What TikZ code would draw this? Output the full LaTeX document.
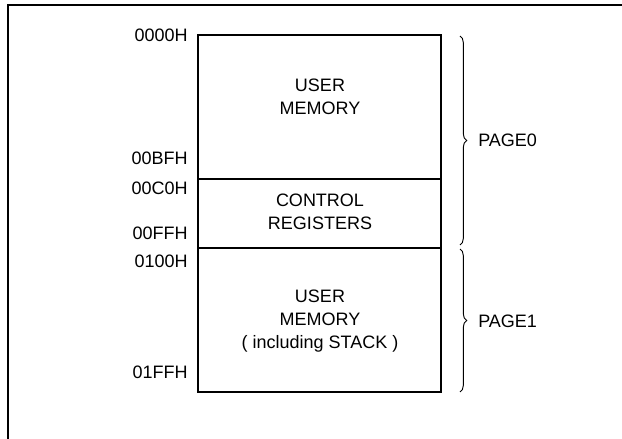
\documentclass[tikz,border=0pt]{standalone}
\usepackage{fontspec}
\setmainfont{Liberation Sans}
\usetikzlibrary{decorations.pathreplacing}
\begin{document}
\begin{tikzpicture}[x=0.75pt,y=-0.75pt,
  lbl/.style={font=\fontsize{13.5}{17}\selectfont,inner sep=0pt,align=center},
  addr/.style={lbl,anchor=east},
  region/.style={draw,line width=1.9pt,minimum width=243*0.75pt,inner sep=0pt,outer sep=0pt},
  bracepath/.style={decorate,decoration={brace,amplitude=5pt},line width=0.7pt}]
\useasboundingbox (0,0) rectangle (622,439);
% outer frame
\draw[line width=1.5pt] (7.5,439) -- (7.5,5) -- (622,5);
% memory regions
\node[region,minimum height=144*0.75pt,anchor=north west] (ua) at (198,35) {};
\node[region,minimum height=69*0.75pt,anchor=north west] (cr) at (198,179) {};
\node[region,minimum height=144*0.75pt,anchor=north west] (ub) at (198,248) {};
% region texts
\node[lbl] (tua) at (320,97) {USER\\MEMORY};
\node[lbl] (tcr) at (320,212) {CONTROL\\REGISTERS};
\node[lbl] (tub) at (320,321) {USER\\MEMORY\\( including STACK )};
% addresses
\node[addr] (a0) at (188,35) {0000H};
\node[addr] (a1) at (188,158) {00BFH};
\node[addr] (a2) at (188,188) {00C0H};
\node[addr] (a3) at (188,233) {00FFH};
\node[addr] (a4) at (188,261) {0100H};
\node[addr] (a5) at (188,372) {01FFH};
% braces
\coordinate (b0s) at (460,36);
\coordinate (b0e) at (460,245);
\coordinate (b1s) at (460,249);
\coordinate (b1e) at (460,392);
\draw[bracepath] (b0s) -- (b0e);
\draw[bracepath] (b1s) -- (b1e);
\node[lbl,anchor=west] (p0) at (478,140) {PAGE0};
\node[lbl,anchor=west] (p1) at (478,321) {PAGE1};
\end{tikzpicture}
\end{document}
